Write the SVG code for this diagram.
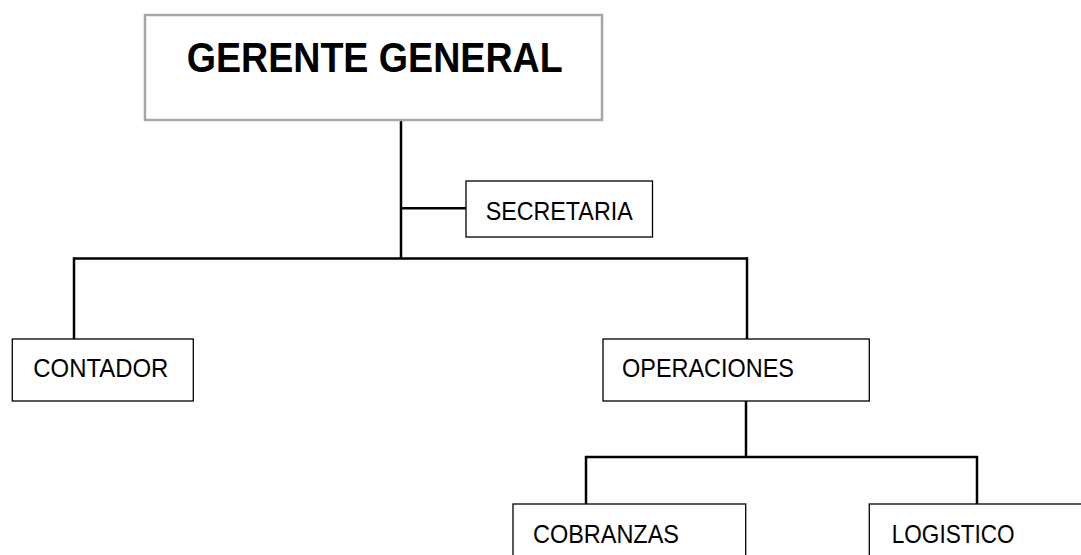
<svg xmlns="http://www.w3.org/2000/svg" width="1081" height="555" viewBox="0 0 1081 555">
<style>
.box{fill:#ffffff;stroke:#000000;stroke-width:1.3}
.top{fill:#ffffff;stroke:#a6a6a6;stroke-width:2.5}
.lbl{font-family:"Liberation Sans",Arial,sans-serif;font-size:25px;fill:#000000}
.ttl{font-family:"Liberation Sans",Arial,sans-serif;font-size:42px;font-weight:bold;fill:#000000}
.con{stroke:#000000;stroke-width:2.5;fill:none}
</style>
<rect width="1081" height="555" fill="#ffffff"/>
<g id="connectors">
<line class="con" x1="401" y1="120" x2="401" y2="259"/>
<line class="con" x1="401" y1="208.3" x2="466" y2="208.3"/>
<line class="con" x1="73" y1="258.5" x2="748" y2="258.5"/>
<line class="con" x1="74" y1="257.5" x2="74" y2="339"/>
<line class="con" x1="747" y1="257.5" x2="747" y2="339"/>
<line class="con" x1="746" y1="401" x2="746" y2="458"/>
<line class="con" x1="585" y1="457" x2="978" y2="457"/>
<line class="con" x1="586" y1="456" x2="586" y2="504"/>
<line class="con" x1="977" y1="456" x2="977" y2="504"/>
</g>
<g id="gerente">
<rect class="top" x="145" y="15" width="457" height="105"/>
<text class="ttl" x="186.7" y="71.7" textLength="376" lengthAdjust="spacingAndGlyphs">GERENTE GENERAL</text>
</g>
<g id="secretaria">
<rect class="box" x="466" y="181" width="186.5" height="56"/>
<text class="lbl" x="485.7" y="220" textLength="147" lengthAdjust="spacingAndGlyphs">SECRETARIA</text>
</g>
<g id="contador">
<rect class="box" x="12.3" y="339" width="181" height="62"/>
<text class="lbl" x="33.3" y="376.7" textLength="135" lengthAdjust="spacingAndGlyphs">CONTADOR</text>
</g>
<g id="operaciones">
<rect class="box" x="603" y="339" width="266.3" height="62"/>
<text class="lbl" x="622" y="377" textLength="172" lengthAdjust="spacingAndGlyphs">OPERACIONES</text>
</g>
<g id="cobranzas">
<rect class="box" x="513" y="504" width="232.7" height="70"/>
<text class="lbl" x="533" y="542.5" textLength="146" lengthAdjust="spacingAndGlyphs">COBRANZAS</text>
</g>
<g id="logistico">
<rect class="box" x="869.3" y="504" width="230" height="70"/>
<text class="lbl" x="891.7" y="542.7" textLength="123" lengthAdjust="spacingAndGlyphs">LOGISTICO</text>
</g>
</svg>
